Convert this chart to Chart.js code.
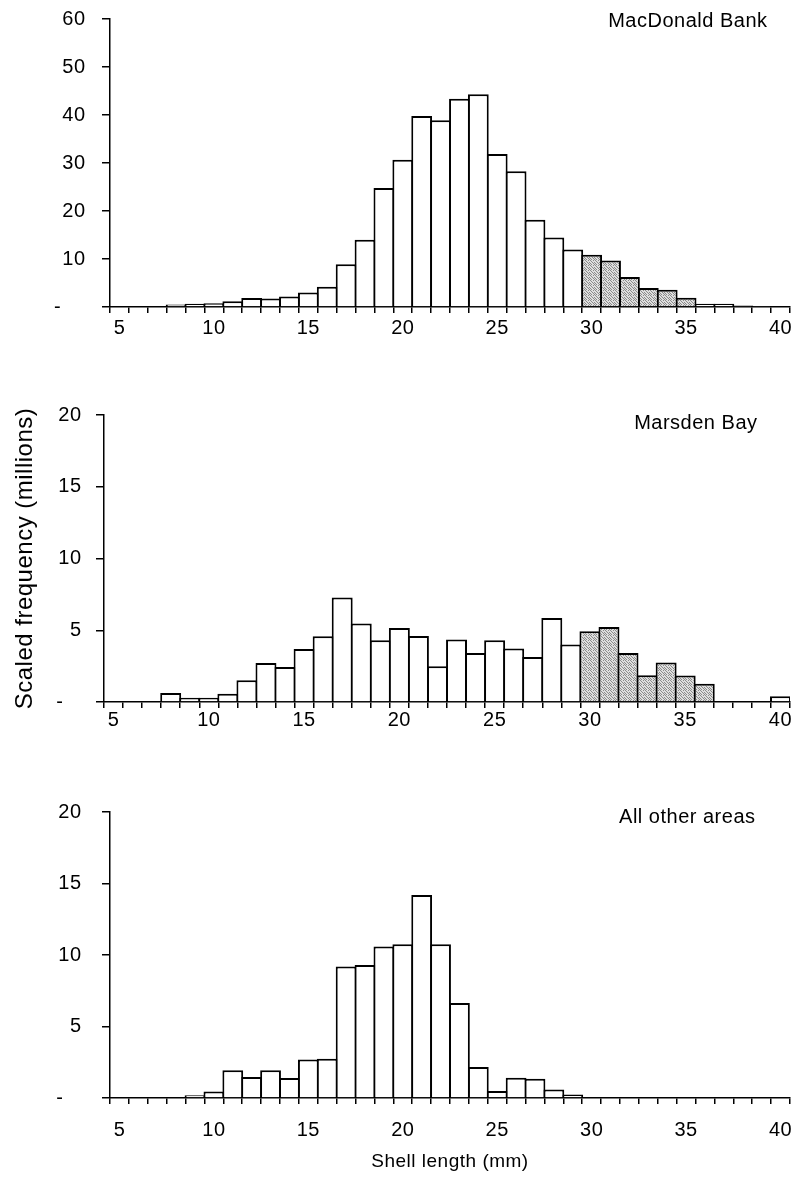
<!DOCTYPE html>
<html><head><meta charset="utf-8">
<script src="https://cdn.jsdelivr.net/npm/chart.js@4.4.0/dist/chart.umd.min.js"></script>
<style>
html,body{margin:0;padding:0;background:#fff;}
body{width:795px;height:1177px;position:relative;overflow:hidden;}
.panel{position:absolute;left:0;width:795px;}
</style></head><body>
<div class="panel" style="top:0;height:360px"><canvas id="c1"></canvas></div>
<div class="panel" style="top:360px;height:400px"><canvas id="c2"></canvas></div>
<div class="panel" style="top:760px;height:417px"><canvas id="c3"></canvas></div>
<script>
// Shell length classes (mm)
const lengths = ['5','6','7','8','9','10','11','12','13','14','15','16','17','18','19','20','21','22','23','24','25','26','27','28','29','30','31','32','33','34','35','36','37','38','39','40'];
const lengthTickLabels = ['5','10','15','20','25','30','35','40'];

// Scaled frequency (millions)
const macdonaldBank = [0,0,0,0.5,0.7,0.8,1.2,1.9,1.75,2.2,3.0,4.2,8.9,14.0,24.8,30.7,39.8,38.9,43.4,44.3,31.9,28.3,18.2,14.5,12.0,10.9,9.7,6.25,3.96,3.6,1.95,0.7,0.7,0.3,0.1,0];
const marsdenBay    = [0,0,0,0.63,0.3,0.3,0.58,1.51,2.72,2.44,3.7,4.58,7.28,5.47,4.3,5.16,4.6,2.49,4.35,3.42,4.3,3.72,3.14,5.86,4.0,4.93,5.23,3.42,1.86,2.75,1.84,1.28,0,0,0,0.4];
const allOtherAreas = [0,0,0,0,0.2,0.45,1.94,1.47,1.94,1.4,2.7,2.75,9.2,9.3,10.6,10.75,14.2,10.75,6.64,2.17,0.49,1.42,1.35,0.59,0.24,0,0,0,0,0,0,0,0,0,0,0];

// Shaded (stippled) length classes per area
const macdonaldShaded = ['30','31','32','33','34','35'];
const marsdenShaded   = ['30','31','32','33','34','35','36'];
const otherShaded     = [];

const panelNames = ['MacDonald Bank','Marsden Bay','All other areas'];
const yTitle = 'Scaled frequency (millions)';
const xTitle = 'Shell length (mm)';

const FONT = '"Liberation Sans", Arial, Helvetica, sans-serif';
const SPACING = '0.5px';
Chart.defaults.font.family = FONT;
Chart.defaults.font.size = 20;
Chart.defaults.color = '#000';

function stipple() {
  const c = document.createElement('canvas'); c.width = 5; c.height = 5;
  const g = c.getContext('2d');
  g.fillStyle = '#dedede'; g.fillRect(0,0,5,5);
  g.fillStyle = '#8a8a8a';
  [[0,0],[3,0],[1,1],[4,2],[2,2],[0,3],[3,3],[1,4],[4,4]].forEach(p => g.fillRect(p[0],p[1],1,1));
  return g.createPattern(c,'repeat');
}
const PAT = stipple();

const typeset = {
  id: 'typeset',
  beforeUpdate(chart) { chart.ctx.letterSpacing = SPACING; },
  beforeDraw(chart) { chart.ctx.letterSpacing = SPACING; },
  afterDraw(chart, args, opts) {
    const ctx = chart.ctx;
    ctx.save();
    ctx.letterSpacing = SPACING;
    ctx.font = '20px ' + FONT;
    ctx.fillStyle = '#000';
    ctx.textAlign = 'right';
    ctx.textBaseline = 'middle';
    ctx.fillText(opts.text, opts.x, opts.y);
    ctx.restore();
  }
};

function makeChart(id, values, shaded, yMax, yStep, cfg) {
  const ctx = document.getElementById(id);
  return new Chart(ctx, {
    type: 'bar',
    data: {
      labels: lengths,
      datasets: [{
        data: values,
        backgroundColor: lengths.map(l => shaded.includes(l) ? PAT : '#ffffff'),
        borderColor: '#000',
        borderWidth: 2,
        barPercentage: 1.1,
        categoryPercentage: 1.0
      }]
    },
    plugins: [typeset],
    options: {
      responsive: true,
      maintainAspectRatio: false,
      animation: false,
      devicePixelRatio: 1,
      layout: { padding: { top: cfg.padTop, right: 5, bottom: 0, left: 0 } },
      plugins: {
        legend: { display: false },
        tooltip: { enabled: false },
        typeset: { text: cfg.label, x: cfg.labelX, y: cfg.labelY }
      },
      scales: {
        x: {
          type: 'category',
          offset: true,
          grid: { display: true, drawOnChartArea: false, drawTicks: true, tickLength: 6, color: '#000', lineWidth: 1.5, offset: true },
          border: { display: true, color: '#000', width: 1.5 },
          ticks: {
            autoSkip: false, maxRotation: 0, minRotation: 0, padding: cfg.xPad,
            callback: function(v, i) { const l = lengths[i]; return lengthTickLabels.includes(l) ? l : ''; }
          },
          title: cfg.showX ? { display: true, text: xTitle, font: { size: 19 }, padding: { top: 0, bottom: 3.6 } } : { display: false },
          afterFit(scale) { scale.height = cfg.xH; scale.paddingLeft = 0; scale.paddingRight = 0; }
        },
        y: {
          min: 0, max: yMax,
          grid: { display: true, drawOnChartArea: false, drawTicks: true, tickLength: 8, color: '#000', lineWidth: 1.5 },
          border: { display: true, color: '#000', width: 1.5 },
          ticks: {
            stepSize: yStep, padding: cfg.yPad,
            callback: function(v) { return v === 0 ? '-' + cfg.dash : String(v); }
          },
          title: cfg.showY ? { display: true, text: yTitle, font: { size: 24 }, padding: { top: 10.5, bottom: 0 } } : { display: false },
          afterFit(scale) { scale.width = cfg.yW; scale.paddingTop = 0; scale.paddingBottom = 0; }
        }
      }
    }
  });
}

makeChart('c1', macdonaldBank, macdonaldShaded, 60, 10,
  { padTop: 19, xH: 53, yW: 110, xPad: 3, yPad: 16.5, dash: '    ', label: panelNames[0], labelX: 767.5, labelY: 21, showX: false, showY: false });
makeChart('c2', marsdenBay, marsdenShaded, 20, 5,
  { padTop: 55, xH: 58, yW: 104, xPad: 0, yPad: 14.5, dash: '   ', label: panelNames[1], labelX: 757.5, labelY: 63, showX: false, showY: true });
makeChart('c3', allOtherAreas, otherShaded, 20, 5,
  { padTop: 52, xH: 79, yW: 110, xPad: 14, yPad: 20.5, dash: '   ', label: panelNames[2], labelX: 755.5, labelY: 57, showX: true, showY: false });
</script>
</body></html>
